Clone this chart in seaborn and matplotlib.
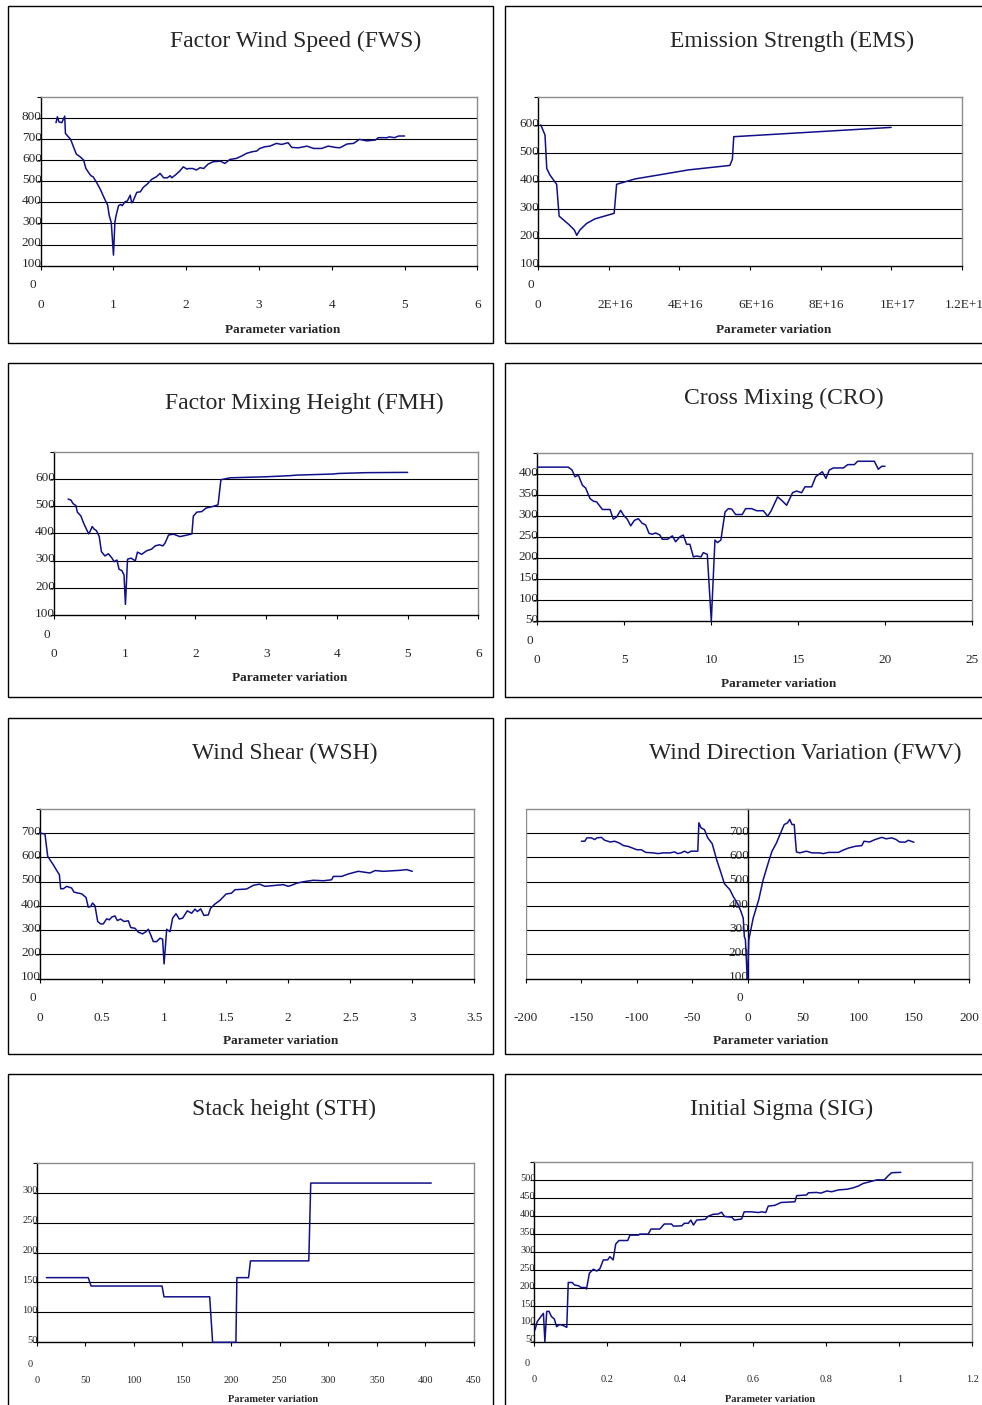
import matplotlib
matplotlib.use("Agg")
import matplotlib.pyplot as plt
from matplotlib.patches import Rectangle
from matplotlib.transforms import ScaledTranslation
import pandas as pd
import seaborn as sns

sns.set_theme(style="white")
plt.rcParams["font.family"] = ["Liberation Serif", "DejaVu Serif"]

W, H = 982, 1405
LINE = "#10108a"
BORDER = "#8c8c8c"

# ---- series: parameter variation (x) vs. response (y) ----
FWS_X = [0.21, 0.23, 0.25, 0.29, 0.31, 0.33, 0.34, 0.38, 0.41, 0.45, 0.49, 0.54, 0.59, 0.62, 0.66,
         0.69, 0.72, 0.77, 0.82, 0.85, 0.88, 0.92, 0.94, 0.97, 1.00, 1.02, 1.04, 1.07, 1.10, 1.12,
         1.16, 1.19, 1.23, 1.25, 1.27, 1.32, 1.37, 1.41, 1.46, 1.53, 1.59, 1.64, 1.69, 1.74, 1.78,
         1.80, 1.85, 1.91, 1.96, 2.01, 2.03, 2.09, 2.14, 2.19, 2.24, 2.30, 2.37, 2.47, 2.53, 2.60,
         2.69, 2.76, 2.83, 2.90, 2.97, 3.01, 3.08, 3.15, 3.24, 3.31, 3.40, 3.45, 3.54, 3.66, 3.75,
         3.86, 3.95, 4.05, 4.11, 4.21, 4.30, 4.38, 4.48, 4.60, 4.64, 4.76, 4.79, 4.86, 4.92, 5.00]
FWS_Y = [777, 805, 781, 777, 792, 808, 726, 710, 699, 663, 628, 616, 600, 561, 540,
         526, 521, 493, 461, 438, 415, 387, 340, 303, 150, 308, 343, 384, 390, 384,
         403, 406, 434, 398, 406, 447, 450, 471, 485, 510, 521, 537, 516, 516, 526,
         516, 529, 548, 568, 557, 560, 560, 553, 564, 560, 581, 592, 595, 584, 603,
         608, 619, 632, 639, 643, 655, 663, 666, 679, 674, 682, 660, 658, 666, 655,
         655, 666, 660, 658, 676, 679, 698, 691, 695, 706, 706, 710, 706, 714, 714]

EMS_X = [7e14, 1.9e15, 2.4e15, 3.3e15, 5.2e15, 5.9e15, 8.5e15, 1.02e16, 1.09e16, 1.18e16, 1.37e16,
         1.6e16, 2.15e16, 2.22e16, 2.74e16, 3.5e16, 4.25e16, 5.43e16, 5.5e16, 5.54e16, 1.0e17]
EMS_Y = [600, 564, 445, 422, 389, 276, 248, 227, 208, 227, 250,
         266, 286, 389, 408, 424, 440, 456, 478, 558, 591]

FMH_X = [0.20, 0.24, 0.27, 0.31, 0.33, 0.38, 0.42, 0.49, 0.51, 0.54, 0.57, 0.60, 0.64, 0.67, 0.72,
         0.77, 0.82, 0.85, 0.89, 0.92, 0.96, 0.99, 1.01, 1.04, 1.09, 1.15, 1.18, 1.24, 1.31, 1.38,
         1.43, 1.49, 1.54, 1.57, 1.62, 1.69, 1.78, 1.87, 1.95, 1.97, 2.02, 2.09, 2.15, 2.25, 2.32,
         2.36, 2.49, 3.01, 3.34, 3.43, 3.95, 4.02, 4.42, 5.00]
FMH_Y = [526, 522, 509, 502, 478, 464, 437, 398, 407, 425, 415, 410, 388, 333, 317,
         325, 309, 296, 302, 268, 263, 247, 139, 305, 309, 299, 331, 323, 336, 342,
         354, 358, 354, 364, 394, 397, 388, 393, 398, 463, 478, 480, 493, 499, 505,
         597, 604, 608, 612, 614, 618, 620, 623, 624]

CRO_X = [0, 1.78, 2.0, 2.16, 2.36, 2.59, 2.78, 3.03, 3.22, 3.41, 3.74, 4.18, 4.37, 4.56, 4.79,
         4.98, 5.17, 5.37, 5.58, 5.81, 6.03, 6.23, 6.42, 6.61, 6.80, 7.05, 7.18, 7.49, 7.76, 7.95,
         8.20, 8.39, 8.58, 8.77, 8.97, 9.16, 9.41, 9.54, 9.77, 10.0, 10.21, 10.36, 10.55, 10.79, 10.98,
         11.17, 11.40, 11.78, 11.97, 12.32, 12.61, 12.99, 13.24, 13.43, 13.81, 14.04, 14.33, 14.67, 14.90, 15.19,
         15.38, 15.77, 16.0, 16.38, 16.59, 16.78, 17.01, 17.59, 17.84, 18.22, 18.41, 19.37, 19.60, 19.79, 19.98]
CRO_Y = [417, 417, 410, 394, 398, 374, 367, 342, 336, 334, 316, 316, 293, 298, 314,
         301, 293, 277, 290, 294, 283, 279, 259, 257, 260, 255, 245, 245, 253, 239,
         251, 255, 233, 233, 203, 205, 203, 213, 209, 50, 243, 237, 243, 310, 318,
         317, 304, 304, 318, 318, 313, 313, 300, 312, 346, 338, 326, 356, 360, 356,
         370, 370, 394, 406, 390, 410, 415, 415, 423, 423, 431, 431, 412, 419, 419]

WSH_X = [0, 0.013, 0.04, 0.062, 0.08, 0.107, 0.134, 0.156, 0.167, 0.188, 0.215, 0.255, 0.274, 0.309,
         0.336, 0.371, 0.389, 0.408, 0.424, 0.443, 0.465, 0.489, 0.510, 0.537, 0.559, 0.578, 0.604,
         0.623, 0.650, 0.677, 0.712, 0.731, 0.766, 0.792, 0.827, 0.854, 0.873, 0.892, 0.913, 0.940,
         0.967, 0.988, 1.0, 1.021, 1.048, 1.069, 1.096, 1.123, 1.150, 1.187, 1.222, 1.249, 1.268,
         1.295, 1.321, 1.356, 1.375, 1.410, 1.450, 1.499, 1.544, 1.571, 1.665, 1.719, 1.768, 1.813,
         1.961, 2.001, 2.041, 2.068, 2.135, 2.203, 2.283, 2.350, 2.364, 2.431, 2.485, 2.565, 2.659,
         2.700, 2.767, 2.901, 2.955, 3.0]
WSH_Y = [704, 699, 697, 605, 591, 570, 547, 529, 471, 471, 481, 474, 457, 453,
         450, 435, 395, 398, 412, 401, 336, 326, 326, 347, 343, 354, 359,
         340, 346, 336, 339, 311, 308, 292, 285, 294, 304, 281, 253, 253,
         267, 263, 161, 304, 294, 350, 368, 346, 350, 380, 370, 387, 377,
         388, 361, 363, 391, 408, 423, 449, 453, 467, 470, 485, 490, 481,
         488, 481, 488, 494, 501, 506, 504, 508, 522, 522, 532, 543, 536,
         546, 543, 547, 550, 543]

FWV_X = [-150, -147, -145, -141, -138, -136, -132, -129, -124, -120, -116, -112, -108, -104, -100,
         -96, -92, -85, -81, -76, -70, -66, -63, -60, -57, -54, -51, -45, -44, -42,
         -39, -36, -32, -28, -24, -21, -16, -13, -9, -6, -4, -3, -2, -0.6, 0,
         1, 5, 10, 14, 19, 22, 26, 30, 33, 36, 38, 40, 42, 44, 47,
         53, 58, 65, 68, 73, 82, 86, 91, 97, 103, 105, 110, 115, 121, 125,
         130, 134, 137, 142, 145, 150]
FWV_Y = [667, 667, 681, 681, 674, 681, 683, 671, 664, 667, 660, 649, 646, 639, 632,
         632, 621, 619, 616, 619, 619, 623, 616, 619, 626, 619, 626, 626, 743, 722,
         715, 681, 657, 591, 536, 492, 467, 439, 409, 377, 350, 274, 260, 122, 100,
         260, 350, 426, 508, 584, 626, 660, 704, 736, 743, 757, 736, 736, 623, 619,
         626, 619, 619, 616, 621, 621, 630, 639, 646, 649, 667, 664, 674, 683, 677,
         681, 674, 664, 663, 671, 663]

STH_X = [10, 53, 56, 129, 131, 178, 181, 205, 206, 218, 220, 280, 282, 406]
STH_Y = [158, 158, 144, 144, 126, 126, 50, 50, 158, 158, 186, 186, 316, 316]

SIG_X = [0.002, 0.008, 0.018, 0.025, 0.029, 0.034, 0.040, 0.047, 0.055, 0.061, 0.070, 0.079, 0.089,
         0.093, 0.104, 0.110, 0.121, 0.128, 0.139, 0.143, 0.151, 0.162, 0.171, 0.180, 0.189, 0.201,
         0.207, 0.216, 0.223, 0.232, 0.256, 0.262, 0.285, 0.289, 0.312, 0.320, 0.344, 0.356, 0.376,
         0.381, 0.404, 0.411, 0.422, 0.429, 0.436, 0.445, 0.468, 0.477, 0.490, 0.504, 0.513, 0.521,
         0.541, 0.548, 0.568, 0.575, 0.595, 0.614, 0.623, 0.634, 0.641, 0.659, 0.676, 0.714, 0.719,
         0.746, 0.751, 0.774, 0.785, 0.801, 0.815, 0.833, 0.858, 0.874, 0.888, 0.901, 0.920, 0.938,
         0.959, 0.970, 0.979, 1.004]
SIG_Y = [83, 106, 120, 129, 50, 134, 135, 120, 113, 92, 98, 95, 90,
         215, 215, 208, 206, 201, 201, 197, 241, 252, 247, 254, 278, 278,
         287, 278, 322, 332, 332, 347, 347, 350, 350, 364, 364, 378, 378,
         372, 373, 380, 380, 389, 375, 389, 391, 400, 405, 406, 411, 399,
         397, 389, 392, 412, 412, 410, 412, 410, 428, 430, 438, 440, 457,
         459, 465, 466, 464, 470, 468, 473, 475, 479, 484, 491, 496, 501,
         501, 513, 521, 522]

# ---- titles and tick labels ----
TITLES = ["Factor Wind Speed (FWS)", "Emission Strength (EMS)", "Factor Mixing Height (FMH)",
          "Cross Mixing (CRO)", "Wind Shear (WSH)", "Wind Direction Variation (FWV)",
          "Stack height (STH)", "Initial Sigma (SIG)"]
XLABEL = "Parameter variation"
FWS_XTICKS = ["0", "1", "2", "3", "4", "5", "6"]
EMS_XTICKS = ["0", "2E+16", "4E+16", "6E+16", "8E+16", "1E+17", "1.2E+17"]
FMH_XTICKS = ["0", "1", "2", "3", "4", "5", "6"]
CRO_XTICKS = ["0", "5", "10", "15", "20", "25"]
WSH_XTICKS = ["0", "0.5", "1", "1.5", "2", "2.5", "3", "3.5"]
FWV_XTICKS = ["-200", "-150", "-100", "-50", "0", "50", "100", "150", "200"]
STH_XTICKS = ["0", "50", "100", "150", "200", "250", "300", "350", "400", "450"]
SIG_XTICKS = ["0", "0.2", "0.4", "0.6", "0.8", "1", "1.2"]

fig = plt.figure(figsize=(W / 100, H / 100), dpi=100)


def fx(px):
    return px / W


def fy(py):
    return 1 - py / H


def frame(x0, y0, x1, y1):
    fig.add_artist(Rectangle((fx(x0), fy(y1)), fx(x1) - fx(x0), fy(y0) - fy(y1),
                             transform=fig.transFigure, fill=False, ec="black", lw=1.0))


def panel(area, xs, ys, xmax, xstep, xlabels, ymin, ymax, ystep, title, title_xy, xlabel_xy,
          xmin=0, small=False, yaxis_x=None, xlab_shift=0.0):
    l, t, r, b = area
    ax = fig.add_axes([fx(l), fy(b), fx(r) - fx(l), fy(t) - fy(b)])
    df = pd.DataFrame({"x": xs, "y": ys})
    sns.lineplot(data=df, x="x", y="y", ax=ax, sort=False, estimator=None,
                 color=LINE, lw=1.1, zorder=5, clip_on=False)
    ax.set_xlim(xmin, xmax)
    ax.set_ylim(ymin, ymax)

    # horizontal grid lines between the floor and the ceiling of the plot area
    v = ymin + ystep
    while v < ymax - 1e-9:
        ax.axhline(v, color="black", lw=0.8, zorder=1)
        v += ystep

    for s in ax.spines.values():
        s.set_color(BORDER)
        s.set_linewidth(1.0)
    ax.spines["bottom"].set_color("black")
    ax.spines["left"].set_color("black")
    if yaxis_x is not None:
        ax.spines["left"].set_position(("data", yaxis_x))
        ax.axvline(xmin, color=BORDER, lw=1.0, zorder=1)

    fs = 7.5 if small else 9.5
    nx = len(xlabels)
    ax.set_xticks([xmin + i * xstep for i in range(nx)])
    ax.set_xticklabels(xlabels)
    ny = int(round((ymax - ymin) / ystep)) + 1
    yt = [ymin + i * ystep for i in range(ny)]
    ax.set_yticks(yt)
    ax.set_yticklabels([str(int(y)) for y in yt[:-1]] + [""])
    ax.tick_params(axis="x", direction="out", length=3, width=0.8, color="black",
                   pad=21.0, labelsize=fs, bottom=True)
    ax.tick_params(axis="y", direction="out", length=3, width=0.8, color="black",
                   pad=-3.8, labelsize=fs, left=True)
    ax.set_xlabel("")
    ax.set_ylabel("")
    ax.grid(False)

    # value labels sit just above their grid lines
    lift = ScaledTranslation(0, 2.0 / 72, fig.dpi_scale_trans)
    for lab in ax.get_yticklabels():
        lab.set_transform(lab.get_transform() + lift)
    if xlab_shift:
        shift = ScaledTranslation(xlab_shift / 72, 0, fig.dpi_scale_trans)
        for lab in ax.get_xticklabels()[1:]:
            lab.set_transform(lab.get_transform() + shift)

    # the zero label sits a fixed distance below the floor of the plot area
    axx = ax.transAxes.inverted().transform(
        ax.transData.transform((yaxis_x if yaxis_x is not None else xmin, ymin)))[0]
    drop = -15.0 if small else -13.0
    ax.annotate("0", xy=(axx, 0), xycoords="axes fraction",
                xytext=(-3, drop), textcoords="offset points", ha="right",
                va="center_baseline", fontsize=fs, annotation_clip=False)

    fig.text(fx(title_xy[0]), fy(title_xy[1]), title, ha="center", va="center", fontsize=17)
    fig.text(fx(xlabel_xy[0]), fy(xlabel_xy[1]), XLABEL, ha="center", va="center",
             fontsize=fs, fontweight="bold")
    return ax


# chart frames
for (y0, y1) in [(6, 343), (363.3, 696.7), (718.3, 1054), (1074.3, 1420)]:
    frame(8, y0, 493, y1)
    frame(505, y0, 1010, y1)

panel((40.7, 96.7, 477.3, 265.7), FWS_X, FWS_Y, 6, 1, FWS_XTICKS, 100, 900, 100,
      TITLES[0], (295.8, 41.7), (282.5, 330))
panel((538.3, 96.7, 961.7, 265.7), EMS_X, EMS_Y, 1.2e17, 2e16, EMS_XTICKS, 100, 700, 100,
      TITLES[1], (791.7, 41.7), (773.3, 330), xlab_shift=4.3)
panel((54, 451.7, 478.3, 615), FMH_X, FMH_Y, 6, 1, FMH_XTICKS, 100, 700, 100,
      TITLES[2], (304.7, 403.3), (289.2, 677.7))
panel((537.3, 453.3, 972.3, 621), CRO_X, CRO_Y, 25, 5, CRO_XTICKS, 50, 450, 50,
      TITLES[3], (783.8, 398.3), (778.2, 684.3))
panel((40, 809, 474.3, 978.7), WSH_X, WSH_Y, 3.5, 0.5, WSH_XTICKS, 100, 800, 100,
      TITLES[4], (284.5, 753.3), (280.2, 1040.7))
panel((526, 809, 969.3, 978.7), FWV_X, FWV_Y, 200, 50, FWV_XTICKS, 100, 800, 100,
      TITLES[5], (805.3, 753.3), (770.8, 1040.7), xmin=-200, yaxis_x=0)
panel((36.7, 1162.7, 474, 1342.3), STH_X, STH_Y, 450, 50, STH_XTICKS, 50, 350, 50,
      TITLES[6], (283.7, 1109.3), (272.8, 1400), small=True)
panel((534.3, 1162.3, 972.3, 1341.7), SIG_X, SIG_Y, 1.2, 0.2, SIG_XTICKS, 50, 550, 50,
      TITLES[7], (781.2, 1109.3), (770.5, 1400), small=True)

fig.savefig("out.png", dpi=100, facecolor="white")
